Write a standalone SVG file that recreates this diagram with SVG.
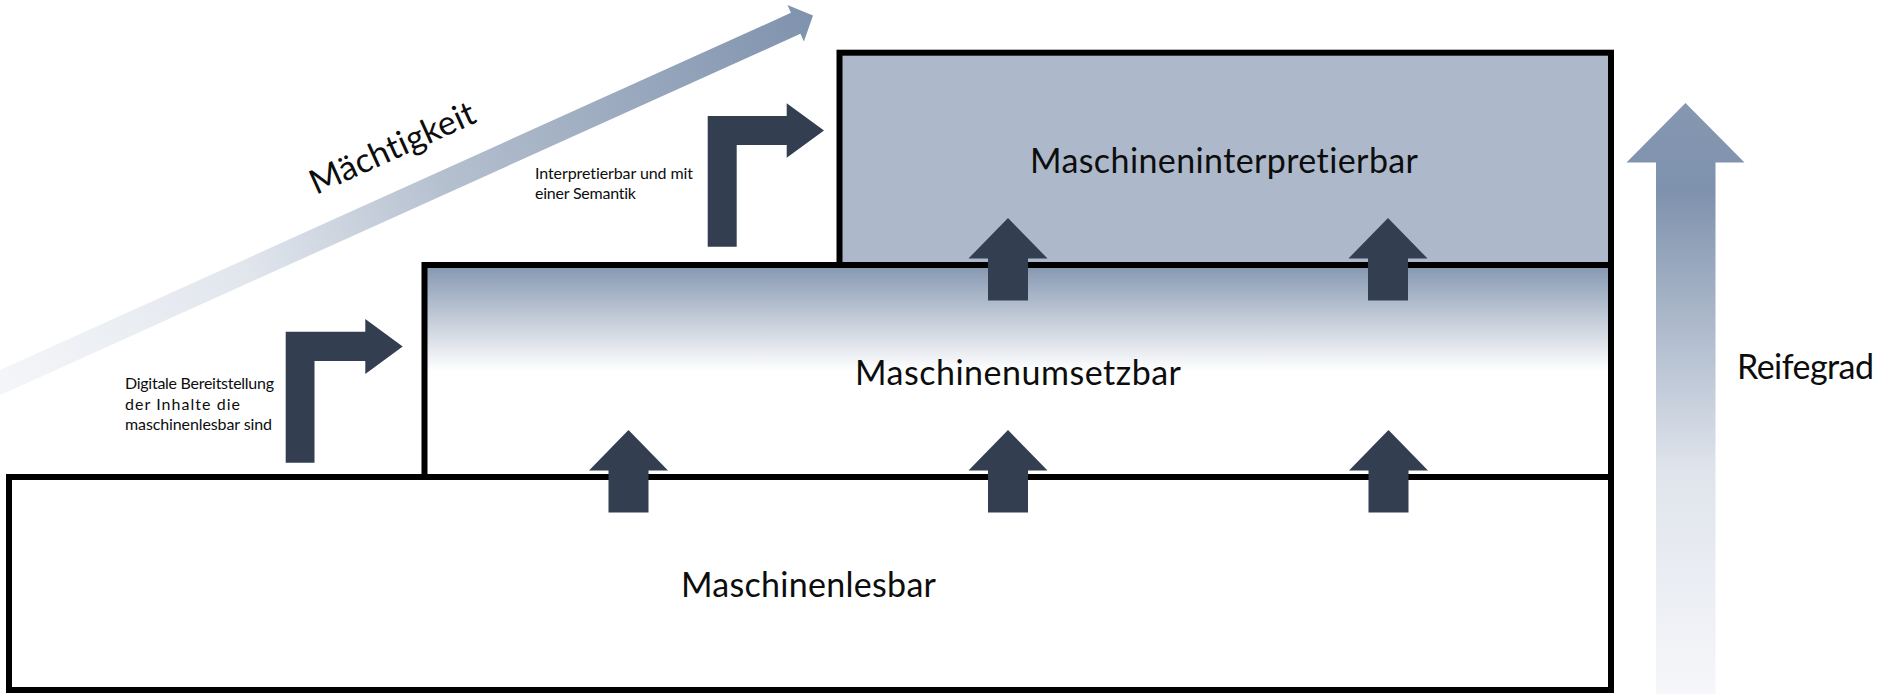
<svg xmlns="http://www.w3.org/2000/svg" width="1879" height="694" viewBox="0 0 1879 694">
  <defs>
    <style>
      .box { stroke: #000; stroke-width: 6; }
      .label { font-family: Lato, "Open Sans", "Liberation Sans", sans-serif; fill: #0d0d0d; font-variant-ligatures: none; }
      .big { font-size: 34px; }
      .small { font-size: 16px; }
      .dark { fill: #333f50; }
    </style>
    <linearGradient id="gradMid" x1="0" y1="0" x2="0" y2="1">
      <stop offset="0" stop-color="#8497b0"/>
      <stop offset="0.5" stop-color="#ffffff"/>
      <stop offset="1" stop-color="#ffffff"/>
    </linearGradient>
    <linearGradient id="gradPower" gradientUnits="userSpaceOnUse" x1="-900" y1="0" x2="0" y2="0">
      <stop offset="0" stop-color="#f5f6f9"/>
      <stop offset="0.31" stop-color="#e1e6ed"/>
      <stop offset="0.55" stop-color="#b5c0cf"/>
      <stop offset="1" stop-color="#7f92ad"/>
    </linearGradient>
    <linearGradient id="gradMaturity" gradientUnits="userSpaceOnUse" x1="0" y1="103" x2="0" y2="694">
      <stop offset="0" stop-color="#8597b1"/>
      <stop offset="0.15" stop-color="#7f92ad"/>
      <stop offset="0.62" stop-color="#dfe4ec"/>
      <stop offset="1" stop-color="#f6f7fa"/>
    </linearGradient>
    <!-- upward block arrow, tip at origin -->
    <path id="upArrow" d="M0,0 L39.5,40.5 L20,40.5 L20,82.5 L-20,82.5 L-20,40.5 L-39.5,40.5 Z"/>
  </defs>

  <rect width="1879" height="694" fill="#ffffff"/>

  <!-- Mächtigkeit axis -->
  <g id="axis-maechtigkeit">
    <path transform="translate(813,15.5) rotate(-24.3)" fill="url(#gradPower)"
          d="M0,0 L-19,-20 L-19,-11.5 L-920,-11.5 L-920,11.5 L-19,11.5 L-19,20 Z"/>
    <text class="label" font-size="34" transform="translate(316,195) rotate(-24.3)" textLength="178">Mächtigkeit</text>
  </g>

  <!-- Reifegrad axis -->
  <g id="axis-reifegrad">
    <path fill="url(#gradMaturity)" d="M1685.5,103 L1744.5,162.5 L1715.5,162.5 L1715.5,700 L1656,700 L1656,162.5 L1626.5,162.5 Z"/>
    <text class="label big" x="1737" y="379" textLength="137">Reifegrad</text>
  </g>

  <!-- level boxes -->
  <g id="box-maschinenlesbar">
    <rect class="box" x="9" y="477" width="1602" height="213" fill="#ffffff"/>
    <text class="label big" x="681" y="597" textLength="255">Maschinenlesbar</text>
  </g>
  <g id="box-maschinenumsetzbar">
    <rect class="box" x="424.5" y="265" width="1186.5" height="212" fill="url(#gradMid)"/>
    <text class="label big" x="855" y="385" textLength="326">Maschinenumsetzbar</text>
  </g>
  <g id="box-maschineninterpretierbar">
    <rect class="box" x="839.5" y="52.7" width="771.5" height="212.3" fill="#adb9ca"/>
    <text class="label big" x="1030" y="173" textLength="388">Maschineninterpretierbar</text>
  </g>

  <!-- step annotations -->
  <g id="note-digital">
    <text class="label small" x="125" y="389.3" textLength="149">Digitale Bereitstellung</text>
    <text class="label small" x="125" y="410" textLength="115">der Inhalte die</text>
    <text class="label small" x="125" y="430.3" textLength="147">maschinenlesbar sind</text>
  </g>
  <g id="note-semantik">
    <text class="label small" x="535" y="179" textLength="158">Interpretierbar und mit</text>
    <text class="label small" x="535" y="199" textLength="101">einer Semantik</text>
  </g>

  <!-- connectors -->
  <g id="connectors" class="dark">
    <path d="M285.7,462.7 L285.7,331.7 L365.3,331.7 L365.3,319 L402.7,346.5 L365.3,374 L365.3,361 L314.5,361 L314.5,462.7 Z"/>
    <path d="M707.7,246.7 L707.7,116 L786.7,116 L786.7,103.3 L824,130.5 L786.7,157.7 L786.7,145 L736.7,145 L736.7,246.7 Z"/>
    <use href="#upArrow" x="628.5" y="430"/>
    <use href="#upArrow" x="1008" y="430"/>
    <use href="#upArrow" x="1388.5" y="430"/>
    <use href="#upArrow" x="1008" y="218"/>
    <use href="#upArrow" x="1388" y="218"/>
  </g>
</svg>
